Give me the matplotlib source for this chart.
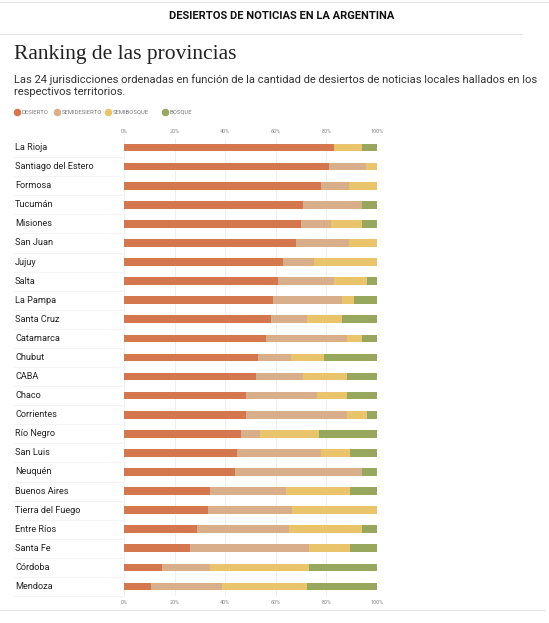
import numpy as np
import matplotlib
matplotlib.use('Agg')
import matplotlib.pyplot as plt
from matplotlib.lines import Line2D
import matplotlib.transforms as mtransforms

provincias = ['La Rioja', 'Santiago del Estero', 'Formosa', 'Tucumán', 'Misiones',
              'San Juan', 'Jujuy', 'Salta', 'La Pampa', 'Santa Cruz', 'Catamarca',
              'Chubut', 'CABA', 'Chaco', 'Corrientes', 'Río Negro', 'San Luis',
              'Neuquén', 'Buenos Aires', 'Tierra del Fuego', 'Entre Ríos',
              'Santa Fe', 'Córdoba', 'Mendoza']

# porcentajes
desierto     = [83.1, 81.2, 78.0, 70.9, 69.8, 67.8, 63.0, 61.0, 59.0, 58.0, 56.1, 53.1,
                52.0, 48.1, 48.1, 46.1, 44.7, 44.0, 34.0, 33.2, 29.0, 26.1, 14.9, 10.8]
semidesierto = [0.0, 14.5, 10.9, 23.3, 11.9, 21.1, 12.1, 22.1, 27.3, 14.2, 32.2, 12.9,
                18.9, 28.1, 40.2, 7.8, 33.3, 50.2, 29.9, 33.3, 36.1, 47.0, 19.1, 28.1]
semibosque   = [11.1, 4.3, 11.1, 0.0, 12.4, 11.1, 24.9, 12.9, 4.6, 14.1, 5.9, 13.2,
                17.4, 12.1, 7.9, 23.3, 11.2, 0.0, 25.3, 33.5, 29.1, 16.1, 39.1, 33.3]
bosque       = [5.8, 0.0, 0.0, 5.8, 5.9, 0.0, 0.0, 4.0, 9.1, 13.7, 5.8, 20.8,
                11.7, 11.7, 3.8, 22.8, 10.8, 5.8, 10.8, 0.0, 5.8, 10.8, 26.9, 27.8]

series = ['DESIERTO', 'SEMIDESIERTO', 'SEMIBOSQUE', 'BOSQUE']
colores = ['#d4774f', '#d9ae8a', '#eac46a', '#97a75e']
ticks = [0, 20, 40, 60, 80, 100]

plt.rcParams['font.family'] = ['Roboto', 'DejaVu Sans']

W, H = 549, 623
fig = plt.figure(figsize=(W/100, H/100), dpi=100, facecolor='white')

def fx(px):
    return px / W

def fy(py):
    return 1 - py / H

# cabecera
fig.add_artist(Line2D([0, 1], [fy(2), fy(2)], color='#e6e6e6', lw=0.8))
fig.text(fx(282), fy(16), 'DESIERTOS DE NOTICIAS EN LA ARGENTINA', ha='center', va='center',
         fontsize=8.0, fontweight='bold', color='#111111')
fig.add_artist(Line2D([0, fx(522)], [fy(34), fy(34)], color='#e3e3e3', lw=0.8))

fig.text(fx(14), fy(54), 'Ranking de las provincias', ha='left', va='center',
         fontsize=15.5, family='Liberation Serif', color='#222222')
fig.text(fx(14), fy(85.5), 'Las 24 jurisdicciones ordenadas en función de la cantidad de desiertos de noticias locales hallados en los\nrespectivos territorios.',
         ha='left', va='center', fontsize=8.0, color='#333333', linespacing=1.15)

# leyenda
lx = [17, 57, 108, 165]
for x, nombre, c in zip(lx, series, colores):
    fig.add_artist(Line2D([fx(x)], [fy(112)], marker='o', markersize=4.4, color=c, lw=0))
    fig.text(fx(x + 5), fy(112), nombre, ha='left', va='center', fontsize=4.2, color='#777777')

ax = fig.add_axes([fx(124), fy(596), fx(377) - fx(124), fy(138) - fy(596)])
y = np.arange(len(provincias))
left = np.zeros(len(provincias))
for vals, c in zip([desierto, semidesierto, semibosque, bosque], colores):
    vals = np.array(vals)
    ax.barh(y, vals, left=left, height=0.4, color=c, lw=0, zorder=3)
    left = left + vals

ax.set_xlim(0, 100)
ax.set_ylim(len(provincias) - 0.5, -0.5)
ax.set_xticks(ticks)
ax.set_xticklabels([f'{t}%' for t in ticks])
ax.tick_params(axis='x', top=False, bottom=False, labeltop=True, labelbottom=True,
               labelsize=4.0, labelcolor='#888888', length=0, pad=3)
ax.set_yticks([])
for s in ax.spines.values():
    s.set_visible(False)
for t in ticks:
    ax.axvline(t, color='#eeeeee', lw=0.6, zorder=1)

trans = mtransforms.blended_transform_factory(fig.transFigure, ax.transData)
for i, nombre in enumerate(provincias):
    ax.text(fx(15), i, nombre, transform=trans, ha='left', va='center',
            fontsize=6.6, color='#222222')
    ax.add_artist(Line2D([fx(14), fx(124)], [i + 0.5, i + 0.5], transform=trans,
                         color='#f2f2f2', lw=0.6, clip_on=False))

fig.add_artist(Line2D([0, fx(545)], [fy(610), fy(610)], color='#e6e6e6', lw=0.8))

fig.savefig('out.png', dpi=100, facecolor='white')
